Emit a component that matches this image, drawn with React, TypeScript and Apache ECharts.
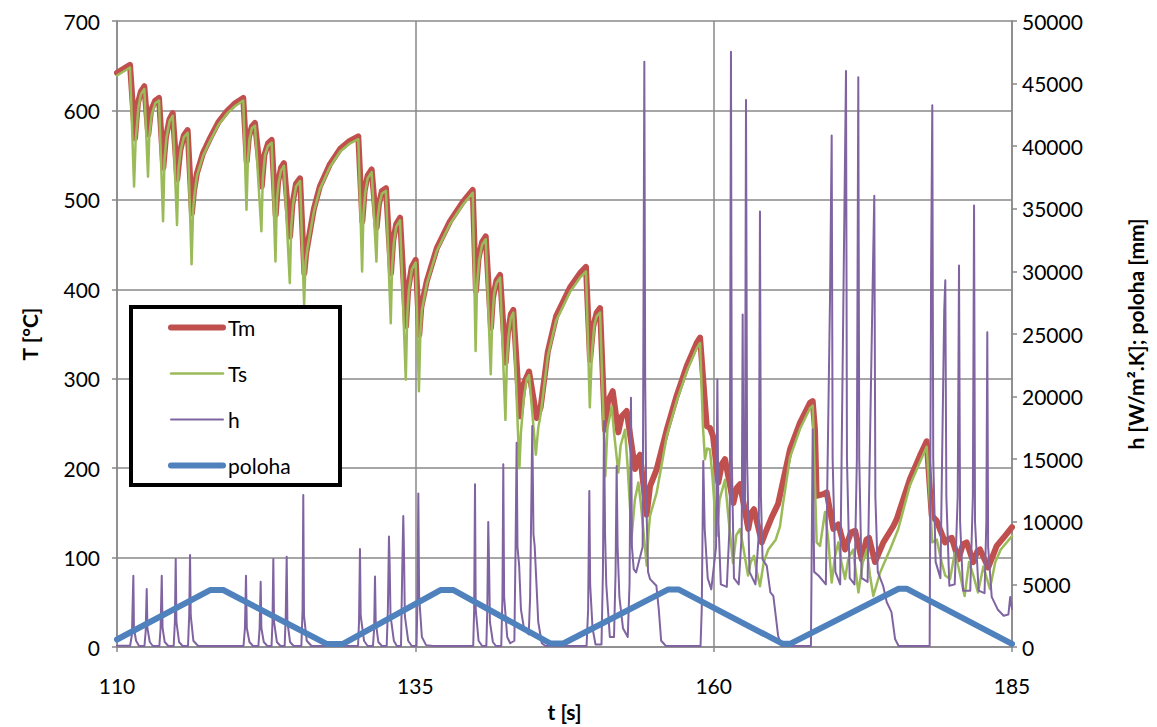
import React, { useEffect, useRef } from "react";
import * as echarts from "echarts";

// time axis tick labels
const X_LABELS = ["110", "135", "160", "185"];

// Tm [°C] — [t, value]
const TM: [number, number][] = [
  [110, 642], [111.09, 651], [111.51, 569], [111.75, 608], [112.0, 621], [112.29, 627],
  [112.62, 573], [112.85, 600], [113.2, 611], [113.52, 614],
  [113.88, 536], [114.1, 570], [114.4, 590], [114.67, 597],
  [115.05, 523], [115.3, 555], [115.6, 572], [115.92, 578],
  [116.28, 485], [116.45, 510], [116.7, 530], [117.2, 552], [117.8, 569], [118.5, 587], [119.2, 599], [119.9, 608], [120.58, 614],
  [120.87, 543], [121.05, 570], [121.3, 582], [121.56, 586],
  [122.13, 515], [122.35, 550], [122.65, 563], [122.96, 567],
  [123.3, 483], [123.5, 520], [123.75, 536], [123.99, 541],
  [124.5, 459], [124.7, 495], [125.0, 518], [125.34, 524],
  [125.7, 418], [125.85, 440], [126.17, 465], [126.5, 490], [127.0, 515], [127.85, 540], [128.7, 557], [129.5, 566], [130.22, 571],
  [130.56, 476], [130.75, 510], [131.0, 527], [131.34, 534],
  [131.76, 469], [131.95, 495], [132.2, 510], [132.54, 513],
  [132.96, 418], [133.15, 455], [133.4, 473], [133.72, 480],
  [134.22, 359], [134.4, 400], [134.7, 425], [135.03, 433],
  [135.33, 349], [135.5, 380], [135.96, 409], [136.8, 446], [137.9, 476], [139.0, 498], [139.81, 511],
  [140.08, 398], [140.3, 435], [140.6, 453], [140.9, 459],
  [141.34, 357], [141.5, 390], [141.8, 410], [142.1, 416],
  [142.57, 318], [142.75, 350], [143.0, 372], [143.21, 377],
  [143.77, 258], [144.1, 295], [144.53, 308],
  [145.17, 256], [145.5, 268], [146.1, 330], [146.8, 370], [147.96, 402], [148.8, 418], [149.3, 425],
  [149.64, 321], [149.9, 358], [150.2, 374], [150.48, 379],
  [150.89, 243], [151.15, 275], [151.54, 286],
  [152.01, 240], [152.3, 258], [152.71, 264],
  [153.41, 199], [153.6, 210], [153.83, 215],
  [154.39, 148], [154.67, 180], [155.23, 199], [156.07, 243], [156.9, 281], [157.74, 314], [158.58, 340], [158.86, 346],
  [159.42, 247], [159.69, 245], [159.94, 236],
  [160.39, 184], [160.7, 205], [160.95, 210],
  [161.65, 161], [161.95, 178], [162.21, 182],
  [162.9, 132], [163.15, 150], [163.38, 154],
  [164.03, 117], [164.4, 130], [164.86, 145], [165.4, 160], [165.81, 185], [166.4, 221], [167.24, 251], [168.07, 273], [168.3, 275],
  [168.49, 243], [168.63, 169], [169.19, 171], [169.47, 173],
  [170.03, 132], [170.3, 135], [170.45, 137],
  [171.01, 109], [171.5, 128], [171.85, 130],
  [172.41, 98], [172.8, 120], [173.02, 122],
  [173.52, 95], [174.22, 117], [175.05, 135], [175.34, 143], [176.45, 188], [177.29, 214], [177.85, 230],
  [178.0, 200], [178.27, 147], [178.69, 141],
  [179.39, 117], [179.7, 121], [179.95, 122],
  [180.5, 98], [180.9, 115], [181.2, 117],
  [181.76, 95], [182.1, 107], [182.32, 109],
  [183.01, 89], [183.72, 113], [184.4, 124], [185, 134],
];

// Ts [°C] — [t, value]
const TS: [number, number][] = [
  [110, 639], [111.09, 648], [111.43, 515], [111.56, 566], [111.8, 604], [112.0, 618], [112.29, 624],
  [112.6, 526], [112.7, 570], [112.9, 595], [113.2, 608], [113.52, 611],
  [113.86, 476], [113.98, 545], [114.15, 570], [114.4, 588], [114.67, 594],
  [115.03, 472], [115.15, 535], [115.35, 556], [115.6, 570], [115.92, 575],
  [116.25, 428], [116.38, 490], [116.5, 507], [116.7, 527], [117.2, 549], [117.8, 566], [118.5, 584], [119.2, 596], [119.9, 605], [120.58, 611],
  [120.85, 489], [120.97, 545], [121.1, 568], [121.3, 580], [121.56, 583],
  [122.1, 465], [122.22, 525], [122.4, 550], [122.65, 560], [122.96, 564],
  [123.28, 431], [123.4, 500], [123.55, 520], [123.75, 533], [123.99, 538],
  [124.48, 407], [124.6, 470], [124.75, 495], [125.0, 515], [125.34, 521],
  [125.68, 383], [125.8, 430], [125.95, 445], [126.17, 462], [126.5, 487], [127.0, 512], [127.85, 537], [128.7, 554], [129.5, 563], [130.22, 568],
  [130.54, 420], [130.65, 485], [130.8, 508], [131.0, 524], [131.34, 531],
  [131.74, 431], [131.85, 480], [132.0, 496], [132.2, 507], [132.54, 510],
  [132.94, 362], [133.05, 425], [133.2, 452], [133.4, 470], [133.72, 477],
  [134.2, 299], [134.32, 370], [134.45, 398], [134.7, 422], [135.03, 430],
  [135.3, 286], [135.42, 350], [135.55, 377], [135.96, 406], [136.8, 443], [137.9, 473], [139.0, 495], [139.81, 508],
  [140.05, 331], [140.17, 405], [140.35, 433], [140.6, 450], [140.9, 456],
  [141.32, 305], [141.44, 365], [141.6, 395], [141.8, 407], [142.1, 413],
  [142.55, 254], [142.67, 320], [142.8, 347], [143.0, 368], [143.21, 374],
  [143.72, 200], [143.85, 240], [144.1, 280], [144.35, 300], [144.53, 304],
  [145.1, 215], [145.3, 245], [145.5, 260], [146.1, 325], [146.8, 365], [147.96, 397], [148.8, 413], [149.3, 420],
  [149.62, 268], [149.8, 330], [150.0, 360], [150.2, 370], [150.48, 374],
  [150.92, 191], [151.1, 245], [151.46, 269], [151.65, 240],
  [152.01, 195], [152.2, 225], [152.57, 243], [152.8, 200],
  [153.13, 124], [153.4, 165], [153.69, 184], [153.9, 160],
  [154.39, 91], [154.55, 130], [154.67, 147], [155.23, 173], [156.07, 236], [156.9, 275], [157.74, 308], [158.58, 334], [158.86, 340],
  [159.1, 247], [159.27, 210], [159.45, 222], [159.69, 221], [159.9, 190],
  [160.25, 124], [160.5, 165], [160.95, 187], [161.2, 150],
  [161.62, 94], [161.9, 125], [162.21, 132], [162.5, 110],
  [162.88, 80], [163.1, 95], [163.38, 102], [163.6, 85],
  [163.88, 68], [164.2, 95], [164.58, 109], [165.2, 120], [165.56, 135], [165.81, 160], [166.4, 212], [167.24, 244], [168.07, 267], [168.3, 270],
  [168.45, 200], [168.63, 117], [168.91, 113], [169.33, 151], [169.6, 120],
  [169.89, 72], [170.15, 100], [170.45, 117], [170.7, 95],
  [171.01, 76], [171.3, 100], [171.7, 109], [171.9, 85],
  [172.13, 61], [172.5, 95], [172.83, 109], [173.1, 80],
  [173.38, 57], [173.94, 83], [174.78, 109], [175.47, 132], [176.45, 181], [177.29, 207], [177.85, 224],
  [178.0, 190], [178.32, 117], [178.7, 120], [179.1, 95], [179.4, 80],
  [179.81, 76], [180.2, 105], [180.5, 90],
  [181.03, 57], [181.4, 95], [181.76, 80],
  [182.15, 61], [182.6, 90], [183.15, 65], [183.6, 95], [184.06, 109], [185, 124],
];

// h [W/m².K] — [t, value]
const H: [number, number][] = [
  [110, 100], [111.1, 100], [111.25, 1000], [111.37, 5690], [111.42, 1500], [111.6, 500], [111.85, 80],
  [112.3, 80], [112.4, 1200], [112.49, 4630], [112.55, 1500], [112.75, 400], [113.0, 80],
  [113.55, 80], [113.65, 1500], [113.75, 5690], [113.82, 1500], [114.0, 400], [114.3, 80],
  [114.75, 80], [114.85, 2000], [114.92, 7020], [114.98, 2000], [115.2, 400], [115.5, 80],
  [115.95, 80], [116.05, 2500], [116.12, 7340], [116.18, 2500], [116.4, 500], [116.8, 80],
  [120.6, 80], [120.72, 1500], [120.81, 5690], [120.88, 1500], [121.1, 400], [121.4, 80],
  [121.85, 80], [121.95, 1500], [122.04, 5210], [122.1, 1500], [122.3, 400], [122.6, 80],
  [122.95, 80], [123.03, 2000], [123.1, 7020], [123.16, 2000], [123.4, 400], [123.7, 80],
  [124.05, 80], [124.14, 2500], [124.22, 7200], [124.28, 2000], [124.5, 400], [124.8, 80],
  [125.45, 80], [125.55, 3000], [125.61, 12140], [125.67, 2500], [125.9, 500], [126.3, 80],
  [130.2, 80], [130.28, 2000], [130.36, 7820], [130.42, 2500], [130.7, 500], [131.0, 80],
  [131.45, 80], [131.55, 1500], [131.62, 5630], [131.68, 2000], [131.9, 400], [132.2, 80],
  [132.6, 80], [132.7, 3000], [132.79, 8830], [132.85, 6500], [132.92, 2500], [133.2, 500], [133.45, 80],
  [133.8, 80], [133.9, 6000], [133.99, 10470], [134.05, 7500], [134.12, 2500], [134.4, 500], [134.7, 80],
  [135.1, 80], [135.18, 4000], [135.25, 12260], [135.32, 4000], [135.55, 800], [135.9, 150], [136.5, 80],
  [139.85, 80], [139.93, 3000], [140.0, 13000], [140.06, 3000], [140.3, 500], [140.6, 80],
  [140.95, 80], [141.03, 3000], [141.11, 9990], [141.18, 6500], [141.25, 2000], [141.5, 400], [141.75, 80],
  [142.2, 80], [142.3, 4000], [142.37, 14590], [142.44, 4000], [142.7, 800], [142.95, 300],
  [143.3, 500], [143.4, 8000], [143.49, 16320], [143.56, 8000], [143.7, 6500], [143.85, 3000], [144.1, 1500], [144.5, 1000],
  [144.62, 4000], [144.8, 17650], [144.9, 9000], [145.0, 8080], [145.3, 2000], [145.6, 300], [145.9, 80],
  [149.35, 80], [149.48, 3000], [149.58, 12470], [149.65, 5000], [149.85, 1500], [150.1, 200],
  [150.6, 200], [150.72, 6000], [150.81, 18050], [150.9, 9000], [151.0, 5000], [151.3, 800],
  [151.65, 800], [151.78, 6000], [151.87, 14460], [151.95, 8000], [152.1, 4000], [152.4, 1500], [152.8, 800],
  [152.95, 5000], [153.07, 19910], [153.15, 8000], [153.3, 6220], [153.5, 5950],
  [154.05, 8000], [154.19, 46750], [154.26, 21370], [154.35, 12000], [154.5, 6000], [154.67, 5420], [155.2, 4890], [155.4, 3000], [155.6, 500], [156.0, 80],
  [158.9, 80], [159.0, 3000], [159.13, 14860], [159.25, 9400], [159.5, 5500], [159.8, 4600],
  [160.2, 8000], [160.31, 21370], [160.4, 10000], [160.6, 5000], [161.1, 4800],
  [161.35, 10000], [161.45, 47550], [161.52, 15000], [161.7, 5500], [162.1, 5000],
  [162.35, 9000], [162.43, 26550], [162.5, 12000], [162.62, 11000], [162.71, 43700], [162.8, 15000], [163.0, 6000], [163.5, 5000],
  [163.78, 9000], [163.88, 34790], [163.96, 12000], [164.1, 7000], [164.45, 6480], [164.75, 4360], [165.0, 4090], [165.2, 2500], [165.4, 900], [165.7, 80],
  [168.15, 80], [168.3, 17400], [168.42, 6000], [168.8, 5690],
  [169.4, 5000], [169.75, 27900], [169.89, 40850], [169.97, 15000], [170.2, 6000], [170.6, 5000],
  [170.95, 34370], [171.09, 46000], [171.17, 15000], [171.4, 5500], [171.8, 5000],
  [172.0, 15000], [172.12, 45500], [172.2, 15000], [172.4, 5500], [172.9, 5200],
  [173.35, 30380], [173.46, 36040], [173.55, 12000], [173.75, 6000], [174.2, 4890], [174.5, 3590], [174.9, 2790], [175.2, 640], [175.5, 80],
  [178.1, 80], [178.22, 30000], [178.32, 43270], [178.4, 15000], [178.6, 6800], [179.0, 5500],
  [179.32, 26870], [179.41, 29290], [179.5, 12000], [179.75, 4890], [180.2, 5000],
  [180.45, 12000], [180.56, 30480], [180.65, 10000], [180.9, 4500], [181.5, 4500],
  [181.72, 12000], [181.82, 35270], [181.9, 10000], [182.2, 4500], [182.7, 4300],
  [182.85, 10000], [182.93, 25140], [183.0, 8000], [183.3, 4000], [183.8, 3000], [184.3, 2500], [184.7, 2600], [184.85, 4000], [185, 3030],
];

// poloha [mm] — [t, value]
const POLOHA: [number, number][] = [
  [110, 600], [117.8, 4550], [118.9, 4550], [127.6, 230], [128.9, 230],
  [137.1, 4550], [138.2, 4550], [146.3, 280], [147.4, 280],
  [156.2, 4600], [157.05, 4600], [165.8, 250], [166.4, 250],
  [175.5, 4650], [176.2, 4650], [185, 250],
];

const FONT = "Lato";
const FS = 21;
const GRID = "#898989";

export default function App() {
  const ref = useRef<HTMLDivElement>(null);
  useEffect(() => {
    const chart = echarts.init(ref.current!, null, { renderer: "svg" });
    const line = (name: string, data: any, color: string, width: number, yIdx: number) => ({
      name,
      type: "line",
      data,
      xAxisIndex: 0,
      yAxisIndex: yIdx,
      symbol: "none",
      showSymbol: false,
      itemStyle: { color },
      lineStyle: { color, width, cap: "round", join: "round" },
    });
    const nameStyle = { fontWeight: "bold", fontSize: FS, color: "#000", fontFamily: FONT };
    chart.setOption({
      animation: false,
      textStyle: { fontFamily: FONT },
      grid: { left: 117, right: 145, top: 21, bottom: 79 },
      xAxis: [
        { type: "value", min: 110, max: 185, show: false },
        {
          type: "value",
          min: 0,
          max: 75,
          interval: 25,
          position: "bottom",
          axisLine: { show: true, onZero: false, lineStyle: { color: GRID, width: 1.5 } },
          axisTick: { show: true, length: 5, lineStyle: { color: GRID, width: 1.5 } },
          axisLabel: {
            formatter: (v: number) => X_LABELS[Math.round(v / 25)],
            color: "#000",
            fontSize: FS,
            margin: 28,
            fontFamily: FONT,
          },
          splitLine: { show: true, lineStyle: { color: GRID, width: 1.5 } },
          name: "t [s]",
          nameLocation: "middle",
          nameGap: 54,
          nameTextStyle: nameStyle,
        },
      ],
      yAxis: [
        {
          type: "value",
          min: 0,
          max: 700,
          interval: 100,
          position: "left",
          axisLine: { show: true, lineStyle: { color: GRID, width: 1.5 } },
          axisTick: { show: true, length: 5, lineStyle: { color: GRID, width: 1.5 } },
          axisLabel: { color: "#000", fontSize: FS, margin: 17, fontFamily: FONT },
          splitLine: { show: true, lineStyle: { color: GRID, width: 1.5 } },
          name: "T [°C]",
          nameLocation: "middle",
          nameGap: 77,
          nameTextStyle: nameStyle,
        },
        {
          type: "value",
          min: 0,
          max: 50000,
          interval: 5000,
          position: "right",
          axisLine: { show: true, lineStyle: { color: GRID, width: 1.5 } },
          axisTick: { show: true, length: 5, lineStyle: { color: GRID, width: 1.5 } },
          axisLabel: {
            color: "#000",
            fontSize: FS,
            margin: 10,
            fontFamily: FONT,
            formatter: (v: number) => String(v),
          },
          splitLine: { show: false },
          name: "h [W/m².K]; poloha [mm]",
          nameLocation: "middle",
          nameGap: 113,
          nameTextStyle: nameStyle,
        },
      ],
      graphic: {
        elements: [
          {
            type: "rect",
            z: 10,
            shape: { x: 131, y: 307, width: 209, height: 178 },
            style: { fill: "#fff", stroke: "#000", lineWidth: 4 },
          },
        ],
      },
      legend: {
        data: ["Tm", "Ts", "h", "poloha"],
        orient: "vertical",
        left: 168,
        top: 317,
        padding: 0,
        itemWidth: 52,
        itemHeight: 20,
        itemGap: 25,
        z: 20,
        itemStyle: { opacity: 0 },
        lineStyle: { width: "inherit", cap: "round" },
        textStyle: { fontSize: FS, color: "#000", fontFamily: FONT, lineHeight: 20 },
      },
      series: [
        line("Tm", TM, "#C0504D", 6, 0),
        line("Ts", TS, "#9BBB59", 2.5, 0),
        line("h", H, "#8064A2", 2, 1),
        line("poloha", POLOHA, "#4F81BD", 6, 1),
      ],
    });
    return () => chart.dispose();
  }, []);
  return (
    <div
      ref={ref}
      style={{ position: "absolute", left: 0, top: 0, width: 1157, height: 727 }}
    />
  );
}
